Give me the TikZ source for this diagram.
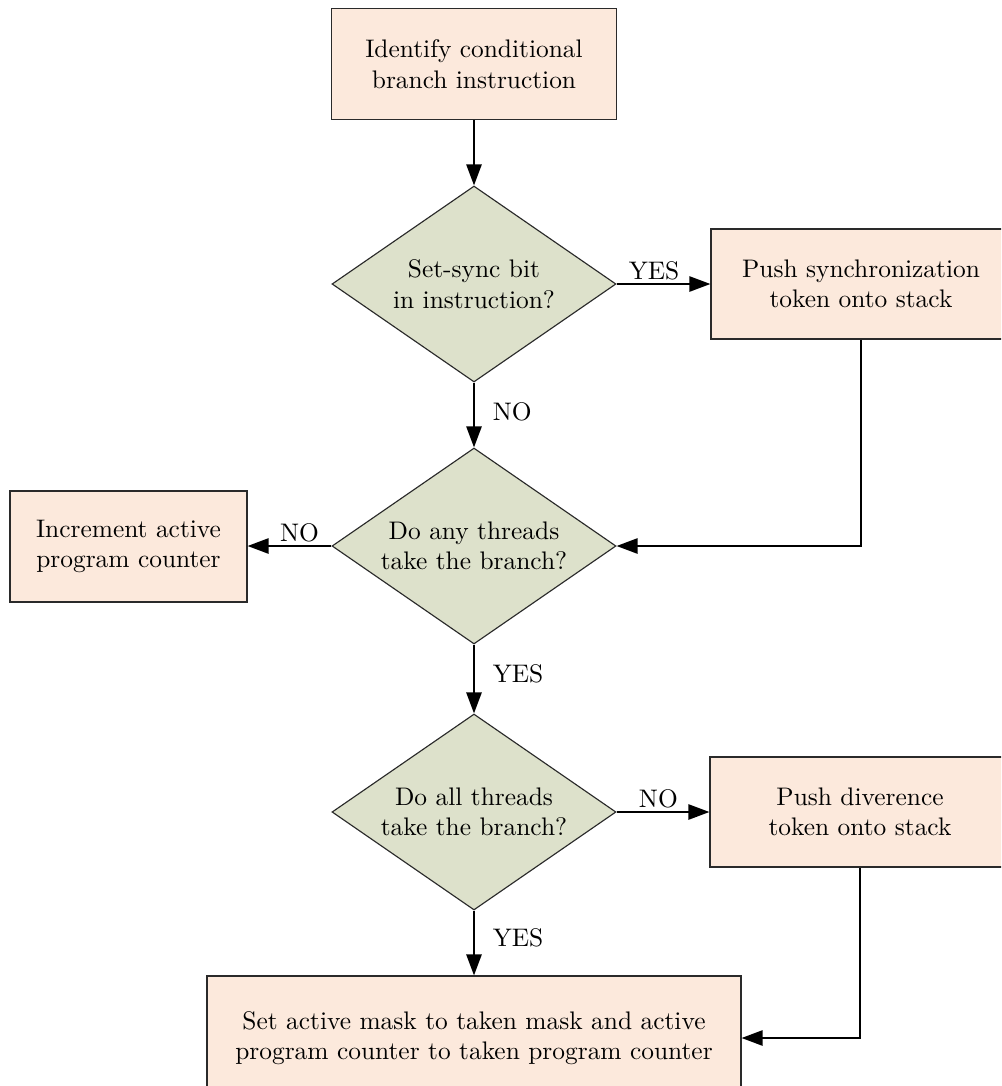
\documentclass[tikz,border=0pt]{standalone}
\usetikzlibrary{shapes.geometric,arrows.meta}
\definecolor{boxfill}{HTML}{FCE9DC}
\definecolor{decfill}{HTML}{DDE1CB}
\definecolor{edge}{HTML}{2A2A2A}
\begin{document}
\begin{tikzpicture}[x=0.3937pt,y=-0.3937pt,
  procbox/.style={draw=edge,line width=0.45pt,fill=boxfill,rectangle,align=center,inner sep=0pt},
  decision/.style={draw=edge,line width=0.45pt,fill=decfill,diamond,aspect=1.45,align=center,inner sep=0pt,
    minimum width=284*0.3937pt,minimum height=196*0.3937pt},
  flow/.style={line width=0.8pt,-{Triangle[length=8.3pt,width=6pt]}},
  lbl/.style={inner sep=1pt}]
\useasboundingbox (0,0) rectangle (1001,1086);
\clip (0,0) rectangle (1001,1086);

\node[procbox,minimum width=285*0.3937pt,minimum height=111*0.3937pt] (ident) at (474,64)
  {Identify conditional\\branch instruction};
\node[decision] (sync) at (474,284) {Set-sync bit\\in instruction?};
\node[procbox,minimum width=300*0.3937pt,minimum height=110*0.3937pt] (pushsync) at (861,284)
  {Push synchronization\\token onto stack};
\node[decision] (any) at (474,546) {Do any threads\\take the branch?};
\node[procbox,minimum width=237*0.3937pt,minimum height=111*0.3937pt] (incr) at (128.5,546.5)
  {Increment active\\program counter};
\node[decision] (all) at (474,812) {Do all threads\\take the branch?};
\node[procbox,minimum width=300*0.3937pt,minimum height=110*0.3937pt] (pushdiv) at (860,812)
  {Push diverence\\token onto stack};
\node[procbox,minimum width=534*0.3937pt,minimum height=124*0.3937pt] (setmask) at (474,1038)
  {Set active mask to taken mask and active\\program counter to taken program counter};

\draw[flow] (ident) -- (sync);
\draw[flow] (sync.east) -- node[lbl,above,pos=0.4] {YES} (pushsync.west |- sync.east);
\draw[flow] (sync.south) -- node[lbl,right,xshift=6pt,pos=0.45] {NO} (any.north);
\draw[flow] (any.west) -- node[lbl,above,pos=0.38] {NO} (incr.east |- any.west);
\coordinate (syncturn) at (pushsync.south |- any.east);
\draw[flow] (pushsync.south) -- (syncturn) -- (any.east);
\draw[flow] (any.south) -- node[lbl,right,xshift=6pt,pos=0.42] {YES} (all.north);
\draw[flow] (all.east) -- node[lbl,above,pos=0.45] {NO} (pushdiv.west |- all.east);
\draw[flow] (all.south) -- node[lbl,right,xshift=6pt,pos=0.42] {YES} (setmask.north);
\coordinate (divturn) at (pushdiv.south |- setmask.east);
\draw[flow] (pushdiv.south) -- (divturn) -- (setmask.east);
\end{tikzpicture}
\end{document}
